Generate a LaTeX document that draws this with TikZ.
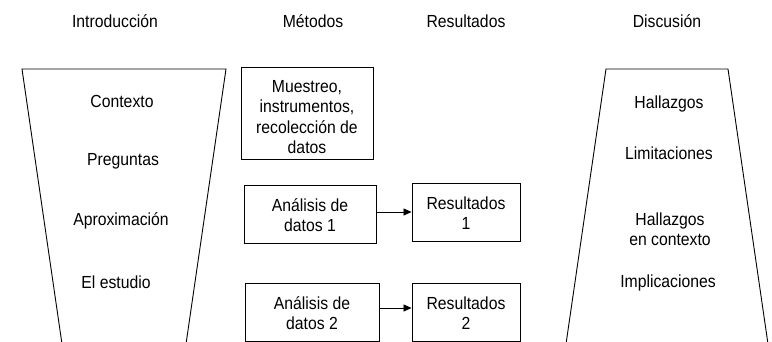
\documentclass[tikz,border=0pt]{standalone}
\usepackage{fontspec}
\setmainfont[FakeStretch=0.9]{Liberation Sans}
\usetikzlibrary{arrows.meta}
\begin{document}
\begin{tikzpicture}[x=1pt,y=-1pt,
  lbl/.style={font=\fontsize{17.5}{20.5}\selectfont, align=center, inner sep=0pt},
  boxn/.style={draw, line width=0.9pt, minimum width=0pt, inner sep=0pt},
  funnel/.style={line width=0.9pt},
  conn/.style={line width=0.7pt, -{Triangle[length=8pt,width=7pt]}}]
\useasboundingbox (0,0) rectangle (772,342);
\begin{scope}
\clip (0,0) rectangle (772,342);
% headers
\node[lbl] (hI) at (115,21) {Introducción};
\node[lbl] (hM) at (313,21) {Métodos};
\node[lbl] (hR) at (466,21) {Resultados};
\node[lbl] (hD) at (667,21) {Discusión};
% funnels
\draw[funnel] (62,344) -- (22,69) -- (226,69) -- (186,344);
\draw[funnel] (566,344) -- (606,69) -- (728,69) -- (768,344);
% left texts
\node[lbl] (c1) at (122,101) {Contexto};
\node[lbl] (c2) at (123,161) {Preguntas};
\node[lbl] (c3) at (121,221) {Aproximación};
\node[lbl] (c4) at (116,282) {El estudio};
% right texts
\node[lbl] (d1) at (669,104) {Hallazgos};
\node[lbl] (d2) at (669,153) {Limitaciones};
\node[lbl] (d3) at (670,229) {Hallazgos\\en contexto};
\node[lbl] (d4) at (668,283) {Implicaciones};
% boxes
\node[boxn, minimum width=132pt, minimum height=92pt] (m1) at (307,113) {};
\node[lbl] (m1t) at ([yshift=-4pt]m1.center) {Muestreo,\\instrumentos,\\recolección de\\datos};
\node[boxn, minimum width=132pt, minimum height=58pt] (a1) at (310,214) {};
\node[lbl] (a1t) at ([yshift=-1pt]a1.center) {Análisis de\\datos 1};
\node[boxn, minimum width=134pt, minimum height=58pt] (a2) at (312,312) {};
\node[lbl] (a2t) at ([yshift=-1pt]a2.center) {Análisis de\\datos 2};
\node[boxn, minimum width=108pt, minimum height=58pt] (r1) at (466,212) {};
\node[lbl] (r1t) at ([yshift=-1pt]r1.center) {Resultados\\1};
\node[boxn, minimum width=108pt, minimum height=58pt] (r2) at (466,312) {};
\node[lbl] (r2t) at ([yshift=-1pt]r2.center) {Resultados\\2};
\draw[conn] (a1.east |- 0,212) -- (r1.west |- 0,212);
\draw[conn] (a2.east |- 0,308) -- (r2.west |- 0,308);
\end{scope}
\end{tikzpicture}
\end{document}
